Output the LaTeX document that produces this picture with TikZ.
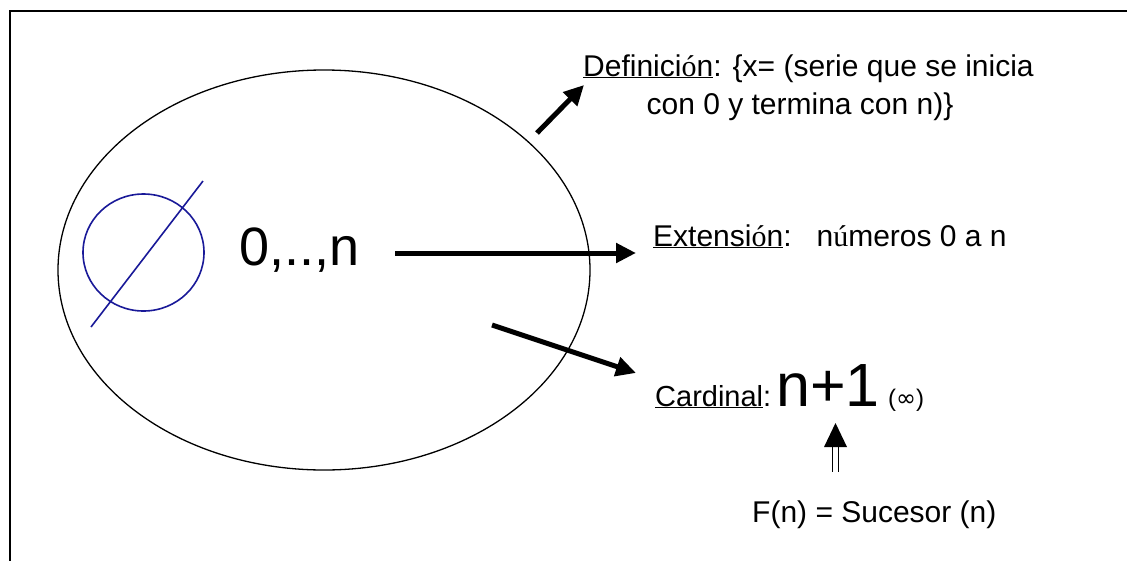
\documentclass[tikz,border=0pt]{standalone}
\usepackage{fontspec}
\setmainfont{Liberation Sans}
\newfontfamily\serifacc{Liberation Serif}
\newfontfamily\symf{DejaVu Sans}
\usetikzlibrary{arrows.meta}
\newcommand{\acc}[1]{{\serifacc #1}}
\newcommand{\ulx}[1]{\underline{#1}}
\begin{document}
\begin{tikzpicture}[x=1pt,y=-1pt,
  txt/.style={inner sep=0pt,anchor=base west,font=\fontsize{30}{36}\selectfont},
  bigarrow/.style={line width=5pt,-{Triangle[length=20pt,width=19pt]}},
  emptyset/.style={draw=blue!55!black!90,line width=1.6pt}]
\useasboundingbox (0,0) rectangle (1127,560);
% frame
\draw[line width=2.5pt] (1150,11) -- (10,11) -- (10,580);
% main ellipse
\draw[line width=1.3pt] (324,270) ellipse[x radius=266,y radius=200];
% empty set symbol
\draw[emptyset] (143.5,252.5) ellipse[x radius=60.5,y radius=58.5];
\draw[emptyset] (91,327) -- (203,181);
% elements
\node[inner sep=0pt,anchor=base west,font=\fontsize{54}{60}\selectfont] (elems) at (239,265) {0,..,n};
% texts
\node[txt] (def1) at (583,76) {\ulx{Definici\acc{ó}n}: \{x= (serie que se inicia};
\node[txt,anchor=base] (def2) at (800,114) {con 0 y termina con n)\}};
\node[txt] (ext) at (653,246) {\ulx{Extensi\acc{ó}n}:\ \ \ n\acc{ú}meros 0 a n};
\node[txt,font=\fontsize{29}{35}\selectfont] (card) at (655,406) {\ulx{Cardinal}:};
\node[inner sep=0pt,anchor=base west,font=\fontsize{61}{66}\selectfont] (np1) at (776,406) {n+1};
\node[inner sep=0pt,anchor=base west,font=\fontsize{24}{28}\selectfont] (inf) at (888,406) {(\symf ∞\rmfamily)};
\node[txt] (suc) at (752,522) {F(n) = Sucesor (n)};
% arrows
\coordinate (a1s) at (537,133);
\coordinate (a1e) at (584,85);
\coordinate (a2s) at (395,253);
\coordinate (a2e) at (636,253);
\coordinate (a3s) at (492,325);
\coordinate (a3e) at (636,373);
\draw[bigarrow] (a1s) -- (a1e);
\draw[bigarrow] (a2s) -- (a2e);
\draw[bigarrow] (a3s) -- (a3e);
% double arrow
\coordinate (dtip) at (835.5,423);
\coordinate (dbase) at (835.5,447);
\coordinate (dtail) at (835.5,472);
\fill (dtip) -- ([xshift=11.5pt]dbase) -- ([xshift=-11.5pt]dbase) -- cycle;
\draw[line width=1.8pt] ([xshift=-3pt]dbase) -- ([xshift=-3pt]dtail);
\draw[line width=1.8pt] ([xshift=3pt]dbase) -- ([xshift=3pt]dtail);
\end{tikzpicture}
\end{document}
